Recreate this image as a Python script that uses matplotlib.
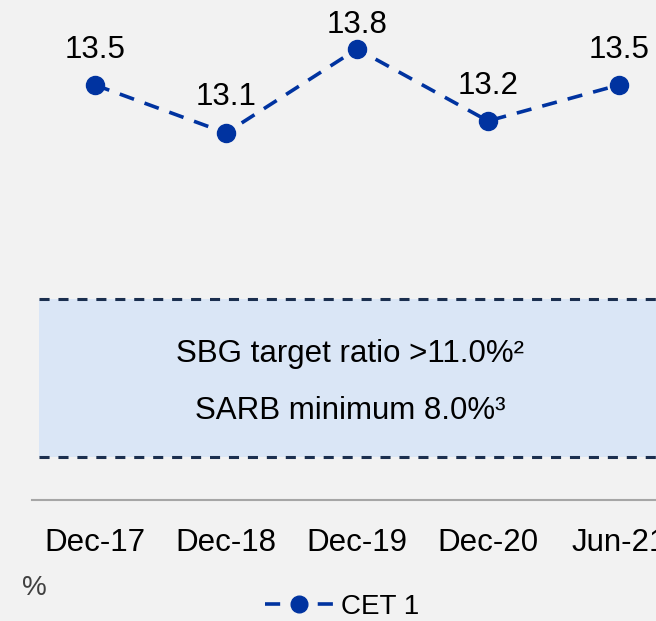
import matplotlib.pyplot as plt
from matplotlib.lines import Line2D

plt.rcParams['font.family'] = ['Liberation Sans', 'DejaVu Sans']

# CET 1 ratio, %
periods = ['Dec-17', 'Dec-18', 'Dec-19', 'Dec-20', 'Jun-21']
cet1 = [13.5, 13.1, 13.8, 13.2, 13.5]
band_lines = ['SBG target ratio >11.0%\u00b2', 'SARB minimum 8.0%\u00b3']

bg = '#f2f2f2'
blue = '#0033a0'
navy = '#1b2f4f'

fig = plt.figure(figsize=(6.56, 6.21), dpi=100, facecolor=bg)
ax = fig.add_axes([32 / 656, 121 / 621, 652.5 / 656, 500 / 621])
ax.set_facecolor(bg)

x = list(range(len(periods)))
ax.plot(x, cet1, color=blue, lw=2.6, ls=(0, (4.2, 3.1)),
        marker='o', ms=13, mec=blue, mfc=blue, zorder=3)

# value labels above each point (the top one sits lower to stay in frame)
label_dy = [19.5, 20.5, 11.5, 19.5, 19.5]
for xi, v, dy in zip(x, cet1, label_dy):
    ax.annotate(f'{v:.1f}', (xi, v), xytext=(0, dy), textcoords='offset points',
                ha='center', va='baseline', fontsize=22.5, color='black')

# regulatory band
band_top, band_bot = 11.717, 10.4
ax.axhspan(band_bot, band_top, xmin=0.011, xmax=1, color='#dae6f6', lw=0, zorder=1)
for yb in (band_top, band_bot):
    ax.axhline(yb, xmin=0.011, xmax=1, color=navy, lw=2.2,
               ls=(0, (3.3, 2.9)), zorder=2)
ax.text(1.947, 11.19, band_lines[0], ha='center', va='baseline',
        fontsize=22.5, color='black')
ax.text(1.947, 10.717, band_lines[1], ha='center', va='baseline',
        fontsize=22.5, color='black')

ax.set_xlim(-0.481, 4.5)
ax.set_ylim(10.042, 14.208)
ax.set_xticks(x)
ax.set_xticklabels(periods, fontsize=22.5, color='black')
ax.tick_params(axis='x', length=0, pad=20)
ax.set_yticks([])
for side in ('top', 'right', 'left'):
    ax.spines[side].set_visible(False)
ax.spines['bottom'].set_color('#a6a6a6')
ax.spines['bottom'].set_linewidth(1.5)

fig.text(22 / 656, 26 / 621, '%', fontsize=20, color='#404040', va='baseline')

handle = Line2D([], [], color=blue, lw=2.6, ls=(0, (4.2, 3.1)),
                marker='o', ms=12, mfc=blue, mec=blue)
fig.legend([handle], ['CET 1'], loc='center', bbox_to_anchor=(342 / 656, 14 / 621),
           frameon=False, fontsize=20, handlelength=2.5, handletextpad=0.25,
           borderpad=0, borderaxespad=0)

fig.savefig('out.png', dpi=100, facecolor=bg)
